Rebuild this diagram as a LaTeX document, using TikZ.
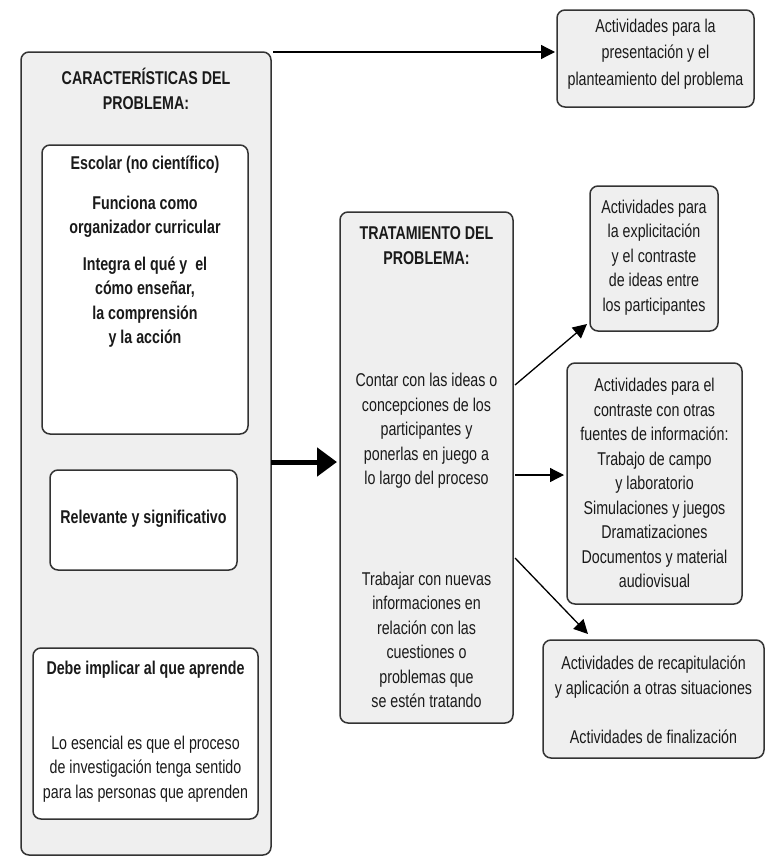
\documentclass[tikz,border=0pt]{standalone}
\usepackage{fontspec}
\setmainfont{Liberation Sans}[FakeStretch=0.77]
\usetikzlibrary{arrows.meta}
\definecolor{boxline}{HTML}{333333}
\definecolor{boxgray}{HTML}{EFEFEF}
\definecolor{txtcol}{HTML}{1A1A1A}
\begin{document}
\begin{tikzpicture}[x=1pt,y=-1pt,
  box/.style={draw=boxline,line width=1.5pt,rounded corners=8pt,fill=boxgray,inner sep=0pt,outer sep=0pt},
  wbox/.style={box,fill=white},
  txt/.style={align=center,inner sep=0pt,text=txtcol,font=\fontsize{18.5}{24.5}\selectfont},
  btxt/.style={align=center,inner sep=0pt,text=txtcol,font=\fontsize{18.5}{24.5}\selectfont\bfseries},
  arr/.style={draw=black,line width=1.3pt,-{Triangle[length=14pt,width=14pt]}},
  bigarr/.style={draw=black,line width=5pt,-{Triangle[length=20pt,width=28pt]}}]
\useasboundingbox (0,0) rectangle (778,862);
% left column
\node[box,minimum width=250pt,minimum height=803pt] (L) at (146,453.5) {};
\node[btxt] (Lt) at (146,89) {CARACTERÍSTICAS DEL\\PROBLEMA:};
\node[wbox,minimum width=206pt,minimum height=289pt] (B1) at (145,289.5) {};
\node[btxt] (B1a) at (145,165) {Escolar (no científico)};
\node[btxt] (B1b) at (145,217) {Funciona como\\organizador curricular};
\node[btxt] (B1c) at (145,302) {Integra el qué y\ \ el\\cómo enseñar,\\la comprensión\\y la acción};
\node[wbox,minimum width=187pt,minimum height=100pt] (B2) at (143.5,520) {};
\node[btxt] (B2a) at (143.5,519) {Relevante y significativo};
\node[wbox,minimum width=225pt,minimum height=171pt] (B3) at (145.5,733.5) {};
\node[btxt] (B3a) at (145.5,670) {Debe implicar al que aprende};
\node[txt] (B3b) at (145.5,769) {Lo esencial es que el proceso\\de investigación tenga sentido\\para las personas que aprenden};
% middle column
\node[box,minimum width=173pt,minimum height=511pt] (T) at (426.5,467.5) {};
\node[btxt] (Tt) at (426.5,245.5) {TRATAMIENTO DEL\\PROBLEMA:};
\node[txt] (Ta) at (426.5,431) {Contar con las ideas o\\concepciones de los\\participantes y\\ponerlas en juego a\\lo largo del proceso};
\node[txt] (Tb) at (426.5,640) {Trabajar con nuevas\\informaciones en\\relación con las\\cuestiones o\\problemas que\\se estén tratando};
% right column
\node[box,minimum width=197pt,minimum height=97pt] (A1) at (655.5,58.5) {};
\node[txt,font=\fontsize{18.5}{26.5}\selectfont] (A1t) at (655.5,54) {Actividades para la\\presentación y el\\planteamiento del problema};
\node[box,minimum width=128pt,minimum height=145pt] (A2) at (654,258.5) {};
\node[txt] (A2t) at (654,257.5) {Actividades para\\la explicitación\\y el contraste\\de ideas entre\\los participantes};
\node[box,minimum width=175pt,minimum height=241pt] (A3) at (654.5,483.5) {};
\node[txt] (A3t) at (654.5,483) {Actividades para el\\contraste con otras\\fuentes de información:\\Trabajo de campo\\y laboratorio\\Simulaciones y juegos\\Dramatizaciones\\Documentos y material\\audiovisual};
\node[box,minimum width=221pt,minimum height=118pt] (A4) at (653.5,699) {};
\node[txt] (A4t) at (653.5,700) {Actividades de recapitulación\\y aplicación a otras situaciones\\[24.5pt]Actividades de finalización};
% connectors
\coordinate (s1) at (273,52);
\draw[arr,shorten >=2pt] (s1) -- (A1.west |- s1);
\draw[bigarr,shorten >=3pt] (L.east |- 0,462) -- (T.west |- 0,462);
\draw[arr] ([xshift=2pt]T.east |- 0,385) -- ([shift={(-3,-7)}]A2.south west);
\draw[arr,shorten >=3pt] ([xshift=2pt]T.east |- 0,475) -- (A3.west |- 0,475);
\draw[arr] ([xshift=2pt]T.east |- 0,558) -- ([shift={(45,-6)}]A4.north west);
\end{tikzpicture}
\end{document}
